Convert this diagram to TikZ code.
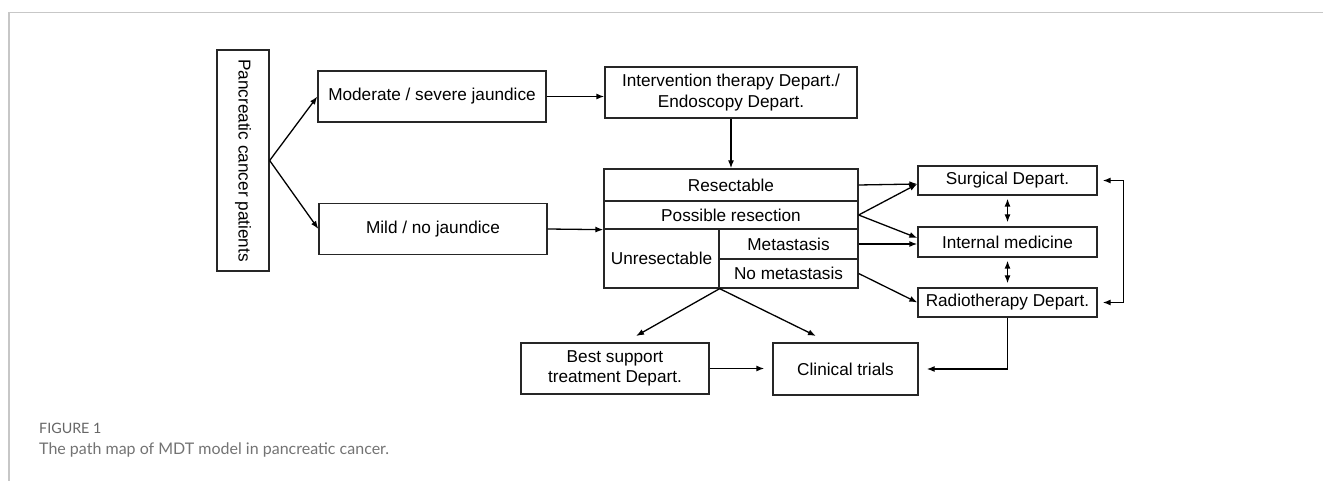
\documentclass[tikz,border=0pt]{standalone}
\usepackage{fontspec}
\setmainfont{Liberation Sans}
\newfontfamily\capfont{Lato}
\usepackage{tikz}
\usetikzlibrary{arrows.meta,calc}

\begin{document}
\begin{tikzpicture}[x=1pt,y=-1pt,
        font=\fontsize{17.2}{20.5}\selectfont,
        box/.style={draw=black!85,line width=1.3pt,inner sep=0pt,align=center},
        link/.style={line width=1.3pt,-{Latex[length=8pt,width=6pt]}},
        twoway/.style={line width=1.3pt,{Latex[length=8pt,width=6pt]}-{Latex[length=8pt,width=6pt]}}]
    \useasboundingbox (0,0) rectangle (1323,481);
    % frame of the page
    \draw[black!22,line width=1.2pt] (9,481) -- (9,12.5) -- (1323,12.5);
    % left column
    \node[box,rotate=-90,minimum width=221pt,minimum height=52pt] (pat) at (243,160.5) {Pancreatic cancer patients};
    \node[box,minimum width=228pt,minimum height=51pt] (mod) at (432,96.5) {Moderate / severe jaundice};
    \node[box,minimum width=228pt,minimum height=51pt] (mild) at (433,229) {Mild / no jaundice};
    \node[box,minimum width=252pt,minimum height=51pt] (interv) at (731,92.5) {Intervention therapy Depart./\\Endoscopy Depart.};
    % the table
    \node[box,minimum width=254pt,minimum height=32pt] (res) at (731,185) {Resectable};
    \node[box,minimum width=254pt,minimum height=28pt] (pos) at (731,215) {Possible resection};
    \node[box,minimum width=115pt,minimum height=59pt] (unres) at (661.5,258.5) {Unresectable};
    \node[box,minimum width=139pt,minimum height=30pt] (meta) at (788.5,244) {Metastasis};
    \node[box,minimum width=139pt,minimum height=29pt] (nometa) at (788.5,273.5) {No metastasis};
    % departments
    \node[box,minimum width=179pt,minimum height=29pt] (surg) at (1007.5,180.5) {Surgical Depart.};
    \node[box,minimum width=179pt,minimum height=30pt] (intm) at (1007.5,242) {Internal medicine};
    \node[box,minimum width=179pt,minimum height=29pt] (radio) at (1007.5,302.5) {Radiotherapy Depart.};
    \node[box,minimum width=188pt,minimum height=51pt] (best) at (615,368.5) {Best support\\treatment Depart.};
    \node[box,minimum width=145pt,minimum height=52pt] (clin) at (845.5,369) {Clinical trials};
    \coordinate (tobest) at (636,336);
    \coordinate (toclin) at (816,336);
    % connectors
    \draw[link] (pat.north) -- (mod.west);
    \draw[link] (pat.north) -- (mild.west);
    \draw[link] (mod.east) -- (mod.east -| interv.west);
    \draw[link] (interv.south) -- (res.north);
    \draw[link] (mild.east) -- (pos.south west);
    \draw[link] (res.east) -- ($(surg.west)+(0,3.5)$);
    \draw[link] (pos.east) -- ($(surg.west)+(0,3.5)$);
    \draw[link] (pos.east) -- ($(intm.west)+(0,-4)$);
    \draw[link] (meta.east) -- (meta.east -| intm.west);
    \draw[link] (nometa.east) -- (radio.west);
    \draw[twoway,shorten <=3pt,shorten >=4pt] (surg.south) -- (intm.north);
    \draw[twoway,shorten <=3pt,shorten >=4pt] (intm.south) -- (radio.north);
    \draw[twoway,shorten <=5pt,shorten >=5pt] (surg.east) -- ++(26,0) |- (radio.east);
    \draw[link,shorten >=8pt] (radio.south) |- (clin.east);
    \draw[link,shorten >=8pt] (best.east) -- (best.east -| clin.west);
    \draw[link] (unres.south east) -- (tobest);
    \draw[link] (unres.south east) -- (toclin);
    % caption
    \node[anchor=west,inner sep=0pt,text=black!60,font=\capfont\fontsize{14.3}{16}\selectfont] (fig) at (39,428) {FIGURE 1};
    \node[anchor=west,inner sep=0pt,text=black!55,font=\capfont\fontsize{16}{18}\selectfont] (cap) at (39,450) {The path map of MDT model in pancreatic cancer.};
\end{tikzpicture}
\end{document}
